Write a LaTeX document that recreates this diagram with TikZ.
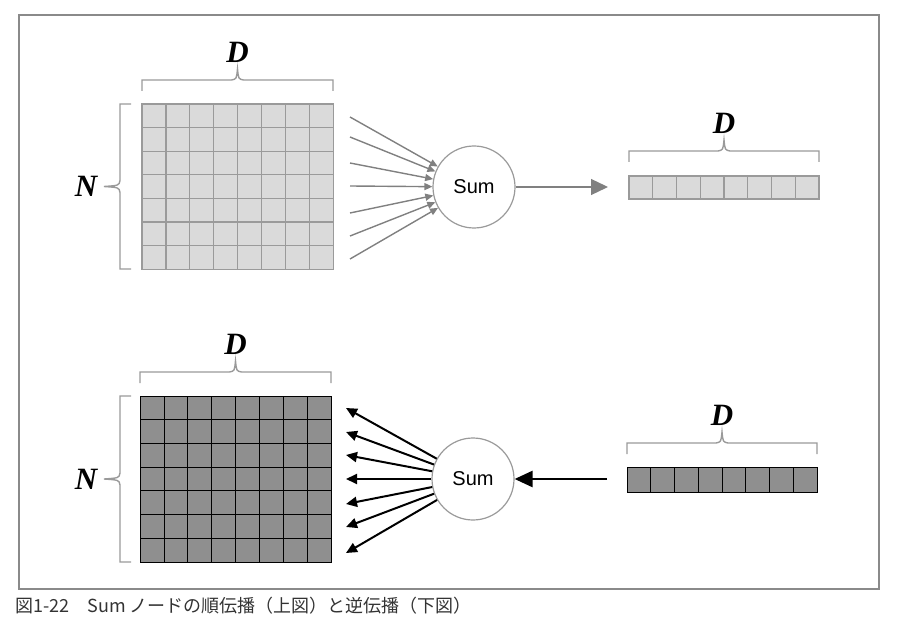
\documentclass[tikz,border=0pt]{standalone}
\usepackage{fontspec}
\setmainfont{Liberation Serif}
\setsansfont{Liberation Sans}
\newfontfamily\jpfont{Noto Sans CJK JP}
\usetikzlibrary{arrows.meta}
\definecolor{framegray}{HTML}{8A8A8A}
\definecolor{lightcell}{HTML}{DADADA}
\definecolor{lightline}{HTML}{9A9A9A}
\definecolor{darkcell}{HTML}{8F8F8F}
\tikzset{
  sumnode/.style={circle,draw=lightline,line width=1.2pt,minimum size=82pt,inner sep=0pt,
    font=\fontsize{20}{24}\selectfont\sffamily},
  dimlabel/.style={font=\fontsize{31}{36}\selectfont\bfseries\itshape},
  bracket/.style={draw=lightline,line width=1.4pt},
  fwd/.style={draw=gray,line width=1.4pt,-{Triangle[length=8pt,width=7pt]}},
  bwd/.style={draw=black,line width=2pt,-{Triangle[length=11pt,width=10pt]}}
}
\begin{document}
\begin{tikzpicture}[x=1pt,y=-1pt]
\useasboundingbox (0,0) rectangle (902,628);
\draw[framegray,line width=1.5pt] (19,15) rectangle (879,589);
% cells
\foreach \i in {0,...,7} {
 \foreach \j in {0,...,6} {
  \draw[fill=lightcell,draw=lightline,line width=1.3pt] (142+23.9*\i,104+23.6*\j) rectangle ++(23.9,23.6);
  \draw[fill=darkcell,draw=black,line width=0.8pt] (140+23.9*\i,396+23.7*\j) rectangle ++(23.9,23.7);
 };
 \draw[fill=lightcell,draw=lightline,line width=1.3pt] (629+23.75*\i,176) rectangle ++(23.75,23);
 \draw[fill=darkcell,draw=black,line width=0.8pt] (627+23.75*\i,467) rectangle ++(23.75,25);
};
% braces
\foreach \xa/\xb/\yb/\n in {142/333/91/dA, 629/819/162/dB, 140/331/383/dC, 627/817/454/dD} {
  \draw[bracket] (\xa,\yb) -- (\xa,\yb-11) -- ({(\xa+\xb)/2-6},\yb-11)
    .. controls ({(\xa+\xb)/2-1},\yb-12) .. ({(\xa+\xb)/2},\yb-22)
    .. controls ({(\xa+\xb)/2+1},\yb-12) .. ({(\xa+\xb)/2+6},\yb-11) -- (\xb,\yb-11) -- (\xb,\yb);
  \node[dimlabel] (\n) at ({(\xa+\xb)/2},\yb-39) {D};
};
\foreach \ya/\yb/\n in {104/269/nA, 396/562/nB} {
  \draw[bracket] (131,\ya) -- (120,\ya) -- (120,{(\ya+\yb)/2-6})
    .. controls (119,{(\ya+\yb)/2-1}) .. (104,{(\ya+\yb)/2})
    .. controls (119,{(\ya+\yb)/2+1}) .. (120,{(\ya+\yb)/2+6}) -- (120,\yb) -- (131,\yb);
  \node[dimlabel] (\n) at (86,{(\ya+\yb)/2}) {N};
};
% sum nodes
\node[sumnode] (sumf) at (474,187) {Sum};
\node[sumnode] (sumb) at (473,479) {Sum};
\foreach \k/\y in {1/117,2/137,3/163,4/186,5/213,6/236,7/259} {
  \coordinate (in\k) at (350,\y);
  \draw[fwd] (in\k) -- (sumf);
};
\foreach \k/\y in {1/408,2/432,3/455,4/479,5/504,6/527,7/553} {
  \coordinate (out\k) at (346,\y);
  \draw[bwd] (sumb) -- (out\k);
};
\coordinate (fwdend) at (608,187);
\draw[draw=gray,line width=1.3pt,-{Triangle[length=17pt,width=16pt]}] (sumf) -- (fwdend);
\coordinate (bwdstart) at (607,479);
\draw[draw=black,line width=2.6pt,-{Triangle[length=18pt,width=16pt]}] (bwdstart) -- (sumb);
% caption
\node[anchor=west,inner sep=0pt,text=black!80,font=\fontsize{18}{22}\selectfont\jpfont] (cap) at (15,606)
  {図1-22\quad Sum ノードの順伝播（上図）と逆伝播（下図）};
\end{tikzpicture}
\end{document}
